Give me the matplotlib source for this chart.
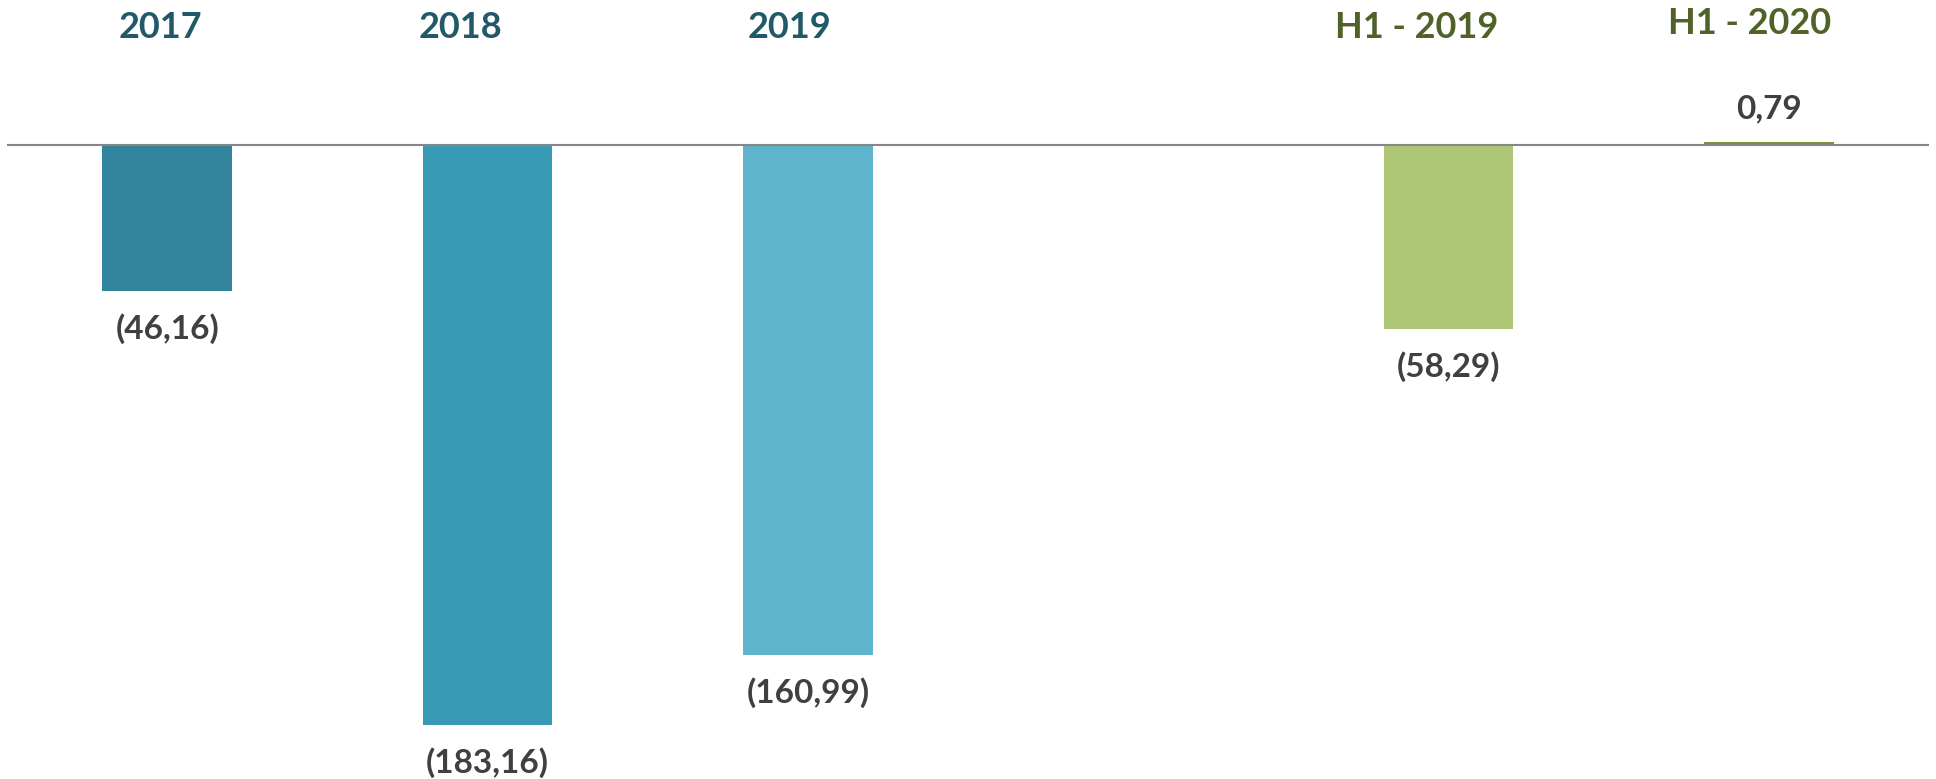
import numpy as np
import matplotlib.pyplot as plt

plt.rcParams['font.family'] = ['Lato', 'DejaVu Sans']

# data
categories = ['2017', '2018', '2019', 'H1 - 2019', 'H1 - 2020']
values = [-46.16, -183.16, -160.99, -58.29, 0.79]
value_labels = ['(46,16)', '(183,16)', '(160,99)', '(58,29)', '0,79']

# layout / style
slots = [0, 1, 2, 4, 5]  # one empty slot between the years and the halves
bar_colors = ['#31849B', '#399AB5', '#5DB4CC', '#ADC776', '#77933C']
label_colors = ['#215968', '#215968', '#215968', '#4F6228', '#4F6228']
label_dx = [-0.02, -0.085, -0.058, -0.10, -0.06]
label_y = [27, 27, 27, 27, 23]  # pixels from top

W, H = 1936, 779
fig = plt.figure(figsize=(W / 100, H / 100), dpi=100)
ax = fig.add_axes([7 / W, 0, 1922 / W, 1])

ax.bar(slots, values, width=0.405, color=bar_colors)
ax.axhline(0, color='#868686', lw=1.5, zorder=3)

ax.set_xlim(-0.5, 5.5)
ax.set_ylim(-200.2, 45.6)
ax.axis('off')

for x, v, lab in zip(slots, values, value_labels):
    off = 24 if v > 0 else -27
    ax.annotate(lab, (x, v), xytext=(0, off), textcoords='offset points',
                ha='center', va='center', fontsize=24, fontweight='bold',
                color='#404040')

for x, cat, c, dx, py in zip(slots, categories, label_colors, label_dx, label_y):
    ax.text(x + dx, 1 - py / H, cat, transform=ax.get_xaxis_transform(),
            ha='center', va='center', fontsize=26, fontweight='bold', color=c)

fig.savefig('out.png', dpi=100)
